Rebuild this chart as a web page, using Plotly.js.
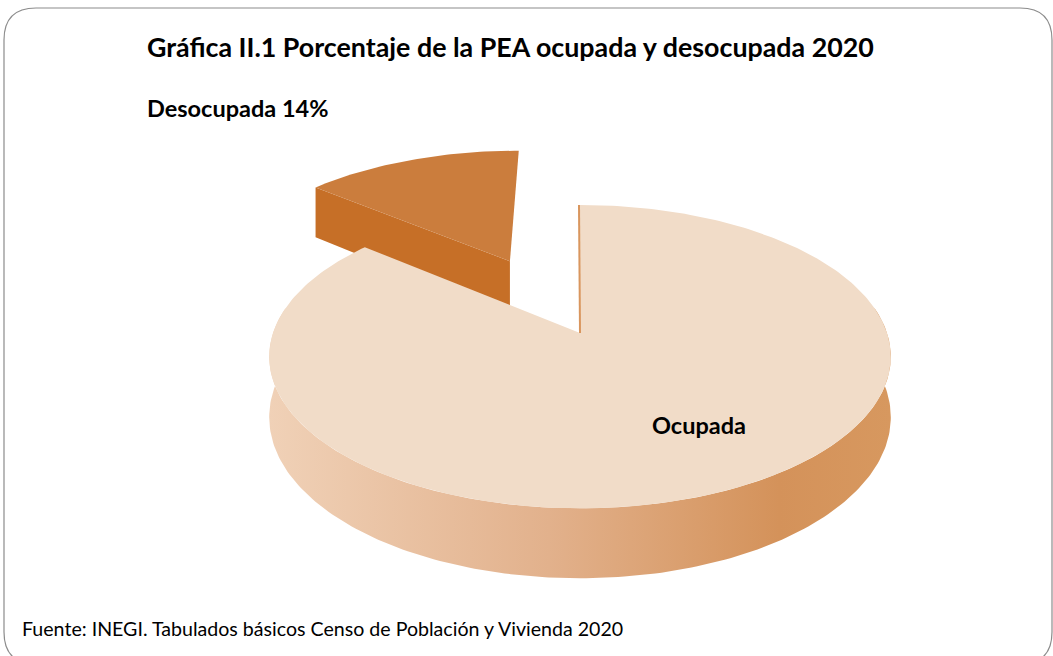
<!DOCTYPE html>
<html>
<head>
<meta charset="utf-8">
<script src="https://cdn.plot.ly/plotly-3.0.1.min.js"></script>
<style>html,body{margin:0;padding:0;background:#fff;}#chart{width:1053px;height:656px;}</style>
</head>
<body>
<div id="chart"></div>
<script>
// ---- data ----
const categories = ['Ocupada', 'Desocupada'];
const values = [86, 14];
const pulls = [0, 0.58];
const titleText = 'Gráfica II.1 Porcentaje de la PEA ocupada y desocupada 2020';
const sourceText = 'Fuente: INEGI. Tabulados básicos Censo de Población y Vivienda 2020';

// ---- styles / geometry ----
const topColors = ['#F1DCC8', '#CB7D3D'];
const faceColors = ['#D9965E', '#C66F27'];
const CX = 580, CY = 333, A = 307, B = 148, E = 0.156, H = 59;

function proj(X, Y, z) {
  const s = 1 / (1 + E * Y);
  return [CX + A * X * s, CY - B * Y * s + z * H * s];
}
const rad = d => d * Math.PI / 180;

const total = values.reduce((a, b) => a + b, 0);
let cum = 0;
const slices = values.map((v, i) => {
  const a1 = 90 - 360 * cum / total;
  cum += v;
  const a2 = 90 - 360 * cum / total;
  const mid = (a1 + a2) / 2;
  return {
    i, lo: Math.min(a1, a2), hi: Math.max(a1, a2),
    ox: pulls[i] * Math.cos(rad(mid)), oy: pulls[i] * Math.sin(rad(mid))
  };
});

function pt(s, ang, r, z) {
  return proj(s.ox + r * Math.cos(rad(ang)), s.oy + r * Math.sin(rad(ang)), z);
}
function arc(s, from, to, z) {
  const pts = [];
  const n = Math.max(2, Math.ceil(Math.abs(to - from)));
  for (let k = 0; k <= n; k++) pts.push(pt(s, from + (to - from) * k / n, 1, z));
  return pts;
}
function poly(pts, color, extra) {
  const x = pts.map(p => p[0]), y = pts.map(p => p[1]);
  x.push(x[0]); y.push(y[0]);
  return Object.assign({
    type: 'scatter', mode: 'lines', x, y, fill: 'toself', fillcolor: color,
    line: {width: 0, color: color}, hoverinfo: 'skip', showlegend: false
  }, extra || {});
}

const traces = [];
const occ = slices[0], des = slices[1];

// Desocupada: visible radial face at its larger angle edge, then top face
{
  const ang = des.hi;
  const face = [pt(des, ang, 0, 0), pt(des, ang, 1, 0), pt(des, ang, 1, 1), pt(des, ang, 0, 1)];
  traces.push(poly(face, faceColors[1]));
  const top = [pt(des, 0, 0, 0)].concat(arc(des, des.lo, des.hi, 0));
  traces.push(poly(top, topColors[1]));
}

// Ocupada: outer side band (front part) with gradient, then top face
{
  const start = occ.lo + 360, end = occ.hi + 360;
  const f = Math.max(start, 170), t = Math.min(end, 370);
  const upper = arc(occ, f, t, 0);
  const lower = arc(occ, t, f, 1);
  traces.push(poly(upper.concat(lower), '#E2B08A', {
    fillgradient: {type: 'horizontal', colorscale: [[0, '#F0D1B7'], [0.45, '#E2B18C'], [0.82, '#D4925A'], [1, '#D7985F']]}
  }));
  const top = [pt(occ, 0, 0, 0)].concat(arc(occ, start, end, 0));
  traces.push(poly(top, topColors[0]));
  const p0 = pt(occ, end, 1, 0), p1 = pt(occ, end, 0, 0);
  traces.push({type: 'scatter', mode: 'lines', x: [p0[0] - 1, p1[0]], y: [p0[1], p1[1]],
    line: {width: 2, color: faceColors[0]}, hoverinfo: 'skip', showlegend: false});
}

const pct = Math.round(100 * values[1] / total);
const FONT = 'Lato, Open Sans, sans-serif';
const layout = {
  width: 1053, height: 656,
  margin: {l: 0, r: 0, t: 0, b: 0},
  paper_bgcolor: '#ffffff', plot_bgcolor: '#ffffff',
  showlegend: false,
  xaxis: {range: [0, 1053], visible: false, fixedrange: true},
  yaxis: {range: [656, 0], visible: false, fixedrange: true},
  shapes: [{
    type: 'path', xref: 'x', yref: 'y',
    path: 'M 4,40 Q 4,8 36,8 L 1020,8 Q 1052,8 1052,40 L 1052,632 Q 1052,664 1020,664 L 36,664 Q 4,664 4,632 Z',
    line: {color: '#8C8C8C', width: 1.2}, fillcolor: 'rgba(0,0,0,0)', layer: 'below'
  }],
  annotations: [
    {x: 145, y: 47, xref: 'x', yref: 'y', xanchor: 'left', yanchor: 'middle', showarrow: false,
     text: '<b>' + titleText + '</b>', font: {family: FONT, size: 26.8, color: '#000'}},
    {x: 145, y: 108, xref: 'x', yref: 'y', xanchor: 'left', yanchor: 'middle', showarrow: false,
     text: '<b>' + categories[1] + ' ' + pct + '%</b>', font: {family: FONT, size: 23.5, color: '#000'}},
    {x: 699, y: 425, xref: 'x', yref: 'y', xanchor: 'center', yanchor: 'middle', showarrow: false,
     text: '<b>' + categories[0] + '</b>', font: {family: FONT, size: 23.5, color: '#000'}},
    {x: 20, y: 628, xref: 'x', yref: 'y', xanchor: 'left', yanchor: 'middle', showarrow: false,
     text: sourceText, font: {family: FONT, size: 19.6, color: '#000'}}
  ]
};
Plotly.newPlot('chart', traces, layout, {staticPlot: true, displayModeBar: false});
</script>
</body>
</html>
